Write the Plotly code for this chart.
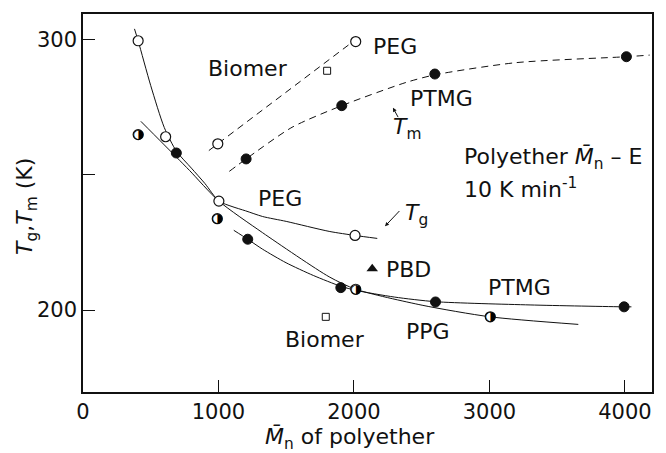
import plotly.graph_objects as go

# ---------------- data ----------------
# PEG (open circles)
peg_tm_x = [995, 2013]
peg_tm_y = [261.5, 299.3]
peg_tg_x = [407, 610, 1003, 2008]
peg_tg_y = [299.6, 264.1, 240.3, 227.6]

# PTMG (filled circles)
ptmg_tm_x = [1204, 1910, 2597, 4011]
ptmg_tm_y = [255.9, 275.6, 287.3, 293.7]
ptmg_tg_x = [689, 1216, 1903, 2602, 3994]
ptmg_tg_y = [258.1, 226.2, 208.3, 203.0, 201.2]

# PPG (half-filled circles)
ppg_tg_x = [407, 991, 2013, 3006]
ppg_tg_y = [264.9, 233.8, 207.7, 197.5]

# Biomer (open squares)
biomer_x = [1802, 1792]
biomer_y = [288.5, 197.5]

# PBD (filled triangle)
pbd_x = [2135]
pbd_y = [215.3]

# fitted curves, vertices
peg_tm_line_x = [929, 2038]
peg_tm_line_y = [259.0, 301.0]
ptmg_tm_line_x = [1080, 1204, 1543, 1910, 2385, 2597, 3195, 4011, 4183]
ptmg_tm_line_y = [251.3, 255.9, 267.6, 275.6, 284.2, 287.0, 291.5, 293.7, 294.3]
peg_tg_line_x = [380, 407, 500, 600, 689, 800, 900, 1003, 1100, 1200, 1326, 1500, 1817, 2008, 2172]
peg_tg_line_y = [304.0, 299.6, 283.0, 267.5, 258.8, 252.5, 246.8, 240.3, 238.3, 236.7, 234.6, 232.8, 229.1, 227.6, 226.5]
ppg_tg_line_x = [427, 689, 787, 1003, 1326, 1817, 2013, 2503, 3006, 3656]
ppg_tg_line_y = [269.8, 256.6, 251.6, 240.3, 228.6, 212.3, 207.7, 201.8, 197.5, 194.7]
ptmg_tg_line_x = [1113, 1216, 1326, 1499, 1700, 1903, 2013, 2300, 2602, 3300, 3994, 4048]
ptmg_tg_line_y = [229.5, 226.2, 222.5, 217.5, 212.8, 208.8, 207.3, 204.8, 203.1, 201.9, 201.2, 201.2]

x_ticks = [0, 1000, 2000, 3000, 4000]
x_tick_text = ["0", "1000", "2000", "3000", "4000"]
y_ticks = [200, 250, 300]
y_tick_text = ["200", "", "300"]

# labels: (text, x, y, xanchor)
labels = [
    ("Biomer", 1217, 289.2, "center"),
    ("PEG", 2126, 297.3, "left"),
    ("PTMG", 2398, 278.3, "left"),
    ("<i>T</i><sub>m</sub>", 2273, 267.0, "left"),
    ("Polyether <i>M\u0304</i><sub>n</sub> \u2013 E", 2795, 256.0, "left"),
    ("10 K min<sup>-1</sup>", 2795, 245.3, "left"),
    ("<i>T</i><sub>g</sub>", 2361, 235.2, "left"),
    ("PEG", 1280, 241.3, "left"),
    ("PBD", 2221, 215.1, "left"),
    ("PTMG", 2972, 208.3, "left"),
    ("PPG", 2369, 191.9, "left"),
    ("Biomer", 1784, 189.3, "center"),
]
# arrows: (head x, head y, tail x, tail y)
arrows = [
    (2288, 274.8, 2332, 270.8),
    (2229, 231.0, 2346, 237.2),
]

FONT = "DejaVu Sans"
BLACK = "#111111"

fig = go.Figure()

def line(x, y, dash=None):
    fig.add_trace(go.Scatter(x=x, y=y, mode="lines", line=dict(color=BLACK, width=1, dash=dash,
                             shape="spline", smoothing=0.7), hoverinfo="skip"))

line(peg_tm_line_x, peg_tm_line_y, "7px,5px")
line(ptmg_tm_line_x, ptmg_tm_line_y, "7px,5px")
line(peg_tg_line_x, peg_tg_line_y)
line(ppg_tg_line_x, ppg_tg_line_y)
line(ptmg_tg_line_x, ptmg_tg_line_y)

open_c = dict(symbol="circle", size=10, color="white", line=dict(color=BLACK, width=1.2))
fill_c = dict(symbol="circle", size=10, color=BLACK, line=dict(color=BLACK, width=1))

fig.add_trace(go.Scatter(x=peg_tm_x + peg_tg_x, y=peg_tm_y + peg_tg_y, mode="markers", marker=open_c))
fig.add_trace(go.Scatter(x=ptmg_tm_x + ptmg_tg_x, y=ptmg_tm_y + ptmg_tg_y, mode="markers", marker=fill_c))
fig.add_trace(go.Scatter(x=ppg_tg_x, y=ppg_tg_y, mode="markers", marker=open_c))
fig.add_trace(go.Scatter(x=ppg_tg_x, y=ppg_tg_y, mode="text", text=["\u25D1"] * len(ppg_tg_x),
                         textposition="middle center", textfont=dict(family=FONT, size=13, color="#000000")))
fig.add_trace(go.Scatter(x=biomer_x, y=biomer_y, mode="markers",
                         marker=dict(symbol="square", size=7, color="white", line=dict(color=BLACK, width=1))))
fig.add_trace(go.Scatter(x=pbd_x, y=pbd_y, mode="markers",
                         marker=dict(symbol="triangle-up", size=10, color=BLACK)))

for t, x, y, xa in labels:
    fig.add_annotation(x=x, y=y, text=t, showarrow=False, xanchor=xa, yanchor="middle",
                       font=dict(family=FONT, size=22, color=BLACK))
for hx, hy, tx, ty in arrows:
    fig.add_annotation(x=hx, y=hy, ax=tx, ay=ty, axref="x", ayref="y", text="", showarrow=True,
                       arrowhead=2, arrowsize=0.8, arrowwidth=1, arrowcolor=BLACK)

# axis titles placed as annotations
fig.add_annotation(x=0.469, y=-0.124, xref="paper", yref="paper", showarrow=False,
                   text="<i>M\u0304</i><sub>n</sub> of polyether", xanchor="center", yanchor="middle",
                   font=dict(family=FONT, size=22, color=BLACK))
fig.add_annotation(x=-0.098, y=0.49, xref="paper", yref="paper", showarrow=False, textangle=-90,
                   text="<i>T</i><sub>g</sub>,<i>T</i><sub>m</sub> (K)", xanchor="center", yanchor="middle",
                   font=dict(family=FONT, size=22, color=BLACK))

fig.update_layout(
    width=666, height=453,
    margin=dict(l=83, r=12, t=13, b=61),
    paper_bgcolor="white", plot_bgcolor="white",
    showlegend=False,
    font=dict(family=FONT, size=21, color=BLACK),
    xaxis=dict(range=[0, 4200], tickvals=x_ticks, ticktext=x_tick_text, ticks="inside", ticklen=12,
               tickwidth=1, tickcolor=BLACK, showline=True, linecolor=BLACK, linewidth=1.6, mirror=True,
               showgrid=False, zeroline=False),
    yaxis=dict(range=[169.7, 309.5], tickvals=y_ticks, ticktext=y_tick_text, ticks="inside", ticklen=12,
               tickwidth=1, tickcolor=BLACK, showline=True, linecolor=BLACK, linewidth=1.6, mirror=True,
               showgrid=False, zeroline=False),
)

fig.write_html("out.html")
